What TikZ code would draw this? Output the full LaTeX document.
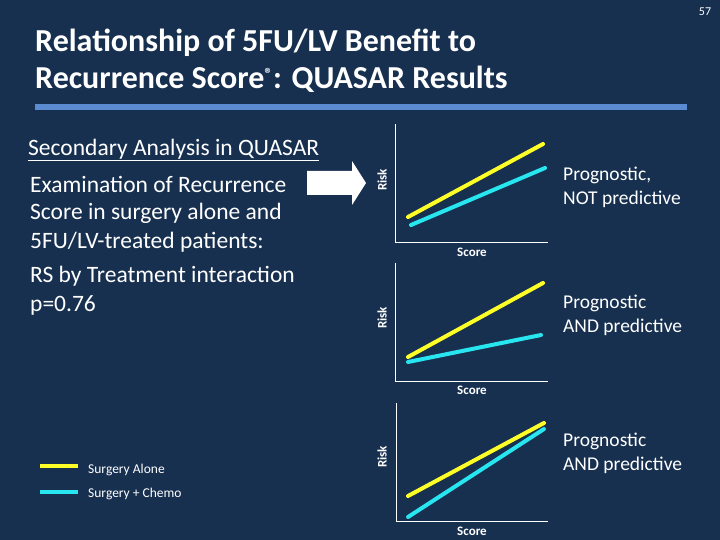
\documentclass[tikz,border=0pt]{standalone}
\usepackage{fontspec}
\setmainfont{Carlito}
\begin{document}
\begin{tikzpicture}[x=1pt,y=-1pt,
  ax/.style={draw=white,line width=1pt},
  yl/.style={draw={rgb,255:red,255;green,255;blue,40},line width=4pt,line cap=round},
  cl/.style={draw={rgb,255:red,40;green,230;blue,240},line width=4pt,line cap=round},
  lab/.style={text=white,font=\fontsize{13}{14}\selectfont\bfseries,inner sep=0pt},
  rt/.style={text=white,font=\fontsize{19.5}{24}\selectfont,align=left,anchor=west,inner sep=0pt},
  lt/.style={text=white,font=\fontsize{23.5}{28}\selectfont,anchor=west,inner sep=0pt}]
\fill[fill={rgb,255:red,23;green,48;blue,80}] (0,0) rectangle (720,540);
\useasboundingbox (0,0) rectangle (720,540);
\node[text=white,font=\fontsize{12}{13}\selectfont,inner sep=0pt] (pg) at (705,12) {57};
\node[text=white,font=\fontsize{32}{37}\selectfont\bfseries,align=left,anchor=west,inner sep=0pt] (title) at (35,61) {Relationship of 5FU/LV Benefit to\\Recurrence Score\textsuperscript{\fontsize{16}{16}\selectfont\textregistered}: QUASAR Results};
\fill[fill={rgb,255:red,91;green,139;blue,208}] (35,104) rectangle (687,110);
\node[lt] (t1) at (28,150) {\underline{Secondary Analysis in QUASAR}};
\node[lt] (t2) at (30,184) {Examination of Recurrence};
\node[lt] (t3) at (30,213) {Score in surgery alone and};
\node[lt] (t4) at (30,242) {5FU/LV-treated patients:};
\node[lt] (t5) at (30,276) {RS by Treatment interaction};
\node[lt] (t6) at (30,305) {p=0.76};
\fill[white] (307,171) -- (352,171) -- (352,161) -- (366,183) -- (352,205) -- (352,195) -- (307,195) -- cycle;
% plot 1
\draw[ax] (395,124) -- (395,242) -- (548,242);
\draw[yl] (408,217) -- (543,144);
\draw[cl] (411,225) -- (545,168);
\node[lab] (s1) at (472,252) {Score};
\node[lab,rotate=90] (r1) at (382,180) {Risk};
\node[rt] (p1) at (563,187) {Prognostic,\\NOT predictive};
% plot 2
\draw[ax] (395,263) -- (395,381) -- (548,381);
\draw[yl] (408,357) -- (543,283);
\draw[cl] (408,362) -- (541,335);
\node[lab] (s2) at (472,390) {Score};
\node[lab,rotate=90] (r2) at (382,318) {Risk};
\node[rt] (p2) at (563,315) {Prognostic\\AND predictive};
% plot 3
\draw[ax] (396,403) -- (396,521) -- (548,521);
\draw[yl] (408,496) -- (544,423);
\draw[cl] (408,517) -- (544,429);
\node[lab] (s3) at (472,531) {Score};
\node[lab,rotate=90] (r3) at (382,457) {Risk};
\node[rt] (p3) at (563,453) {Prognostic\\AND predictive};
% legend
\coordinate (la) at (40,466); \coordinate (lb) at (78,466);
\coordinate (lc) at (40,492); \coordinate (ld) at (78,492);
\draw[yl,line cap=butt] (la) -- (lb);
\draw[cl,line cap=butt] (lc) -- (ld);
\node[text=white,font=\fontsize{13.5}{14}\selectfont,anchor=west,inner sep=0pt] (l1) at (88,470) {Surgery Alone};
\node[text=white,font=\fontsize{13.5}{14}\selectfont,anchor=west,inner sep=0pt] (l2) at (88,494) {Surgery + Chemo};
\end{tikzpicture}
\end{document}
